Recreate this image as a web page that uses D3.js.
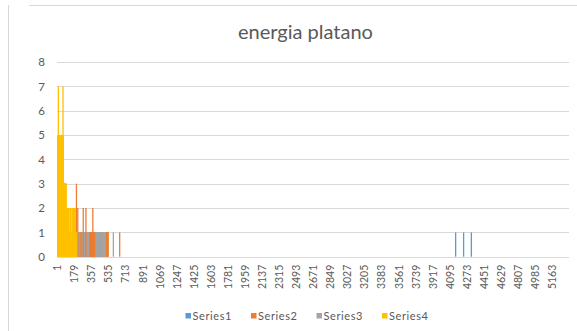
<!DOCTYPE html>
<html>
<head>
<meta charset="utf-8">
<script src="https://cdn.jsdelivr.net/npm/d3@7"></script>
<style>
  html, body { margin: 0; padding: 0; background: #fff; }
  svg { display: block; font-family: Lato, "Open Sans", sans-serif; }
</style>
</head>
<body>
<svg id="chart" width="577" height="331"></svg>
<script>
// Number of categories on the x axis
const categoryCount = 5340;

// Non-zero values per series, stored as runs: [firstCategory, lastCategory, value]
const series1Runs = [[4152, 4152, 1], [4235, 4235, 1], [4316, 4316, 1]];
const series2Runs = [[197, 197, 3], [211, 211, 2], [243, 243, 1], [268, 268, 2], [296, 296, 2],
                     [340, 367, 1], [368, 368, 2], [369, 386, 1], [512, 525, 1], [648, 648, 1]];
const series3Runs = [[200, 329, 1], [388, 496, 1], [582, 582, 1]];
const series4Runs = [[1, 7, 5], [8, 8, 7], [9, 56, 5], [57, 57, 7], [58, 60, 5], [61, 87, 3],
                     [88, 117, 2], [118, 134, 1], [135, 138, 2], [139, 155, 1], [156, 185, 2], [186, 199, 1]];

const seriesNames = ["Series1", "Series2", "Series3", "Series4"];
const seriesColors = ["#5B9BD5", "#ED7D31", "#A5A5A5", "#FFC000"];

const yTicks = [0, 1, 2, 3, 4, 5, 6, 7, 8];
const xTickLabels = ["1", "179", "357", "535", "713", "891", "1069", "1247", "1425", "1603",
  "1781", "1959", "2137", "2315", "2493", "2671", "2849", "3027", "3205", "3383",
  "3561", "3739", "3917", "4095", "4273", "4451", "4629", "4807", "4985", "5163"];

const titleText = "energia platano";

const svg = d3.select("#chart");
const textColor = "#595959";
const gridColor = "#D9D9D9";

// Chart frame lines
svg.append("line").attr("x1", 8.5).attr("x2", 8.5).attr("y1", 5).attr("y2", 331)
  .attr("stroke", gridColor).attr("stroke-width", 1);
svg.append("line").attr("x1", 29).attr("x2", 577).attr("y1", 5.5).attr("y2", 5.5)
  .attr("stroke", gridColor).attr("stroke-width", 1);

const plot = { left: 57, right: 569, top: 62, bottom: 256.7 };

const x = d3.scaleBand()
  .domain(d3.range(1, categoryCount + 1))
  .range([plot.left, plot.right]);

const y = d3.scaleLinear()
  .domain([0, 8])
  .range([plot.bottom, plot.top]);

// Title
svg.append("text")
  .attr("x", 305.5).attr("y", 39)
  .attr("text-anchor", "middle")
  .attr("fill", textColor)
  .attr("font-size", 20)
  .text(titleText);

// Horizontal gridlines
svg.append("g")
  .selectAll("line")
  .data(yTicks)
  .join("line")
  .attr("x1", plot.left).attr("x2", plot.right)
  .attr("y1", d => Math.round(y(d)) + 0.5).attr("y2", d => Math.round(y(d)) + 0.5)
  .attr("stroke", gridColor).attr("stroke-width", 1);

// Y axis labels
const yAxis = svg.append("g")
  .attr("transform", `translate(${plot.left - 12},0)`)
  .call(d3.axisLeft(y).tickValues(yTicks).tickSize(0).tickPadding(0));
yAxis.select(".domain").remove();
yAxis.selectAll("text").attr("fill", textColor).attr("font-size", 11.5).attr("font-family", "Lato, sans-serif");

// Bars: every non-zero category drawn as its own column
function expand(runs) {
  const out = [];
  runs.forEach(([a, b, v]) => { for (let c = a; c <= b; c++) out.push({ cat: c, value: v }); });
  return out;
}
const allRuns = [series1Runs, series2Runs, series3Runs, series4Runs];
const drawOrder = [0, 2, 1, 3];
const barsG = svg.append("g");
drawOrder.forEach(i => {
  barsG.append("g")
    .attr("fill", seriesColors[i])
    .selectAll("rect")
    .data(expand(allRuns[i]))
    .join("rect")
    .attr("x", d => x(d.cat))
    .attr("width", Math.max(1.3, x.bandwidth()))
    .attr("y", d => y(d.value))
    .attr("height", d => y(0) - y(d.value));
});

// X axis labels (rotated)
const xAxis = svg.append("g")
  .attr("transform", `translate(0,${plot.bottom + 8})`)
  .call(d3.axisBottom(x).tickValues(xTickLabels.map(Number)).tickSize(0).tickPadding(0));
xAxis.select(".domain").remove();
xAxis.selectAll("text")
  .attr("fill", textColor)
  .attr("font-size", 10.5)
  .attr("font-family", "Lato, sans-serif")
  .attr("text-anchor", "end")
  .attr("transform", "rotate(-90)")
  .attr("x", 0).attr("y", 0)
  .attr("dy", "0.35em");

// Legend
const legend = svg.append("g").attr("transform", "translate(185.5,316)");
seriesNames.forEach((name, i) => {
  const g = legend.append("g").attr("transform", `translate(${i * 65.5},0)`);
  g.append("rect").attr("x", 0).attr("y", -3).attr("width", 5.5).attr("height", 5.5)
    .attr("fill", seriesColors[i]);
  g.append("text").attr("x", 7).attr("y", 0).attr("dy", "0.35em")
    .attr("fill", textColor).attr("font-size", 11).attr("letter-spacing", 0.6)
    .text(name);
});
</script>
</body>
</html>
